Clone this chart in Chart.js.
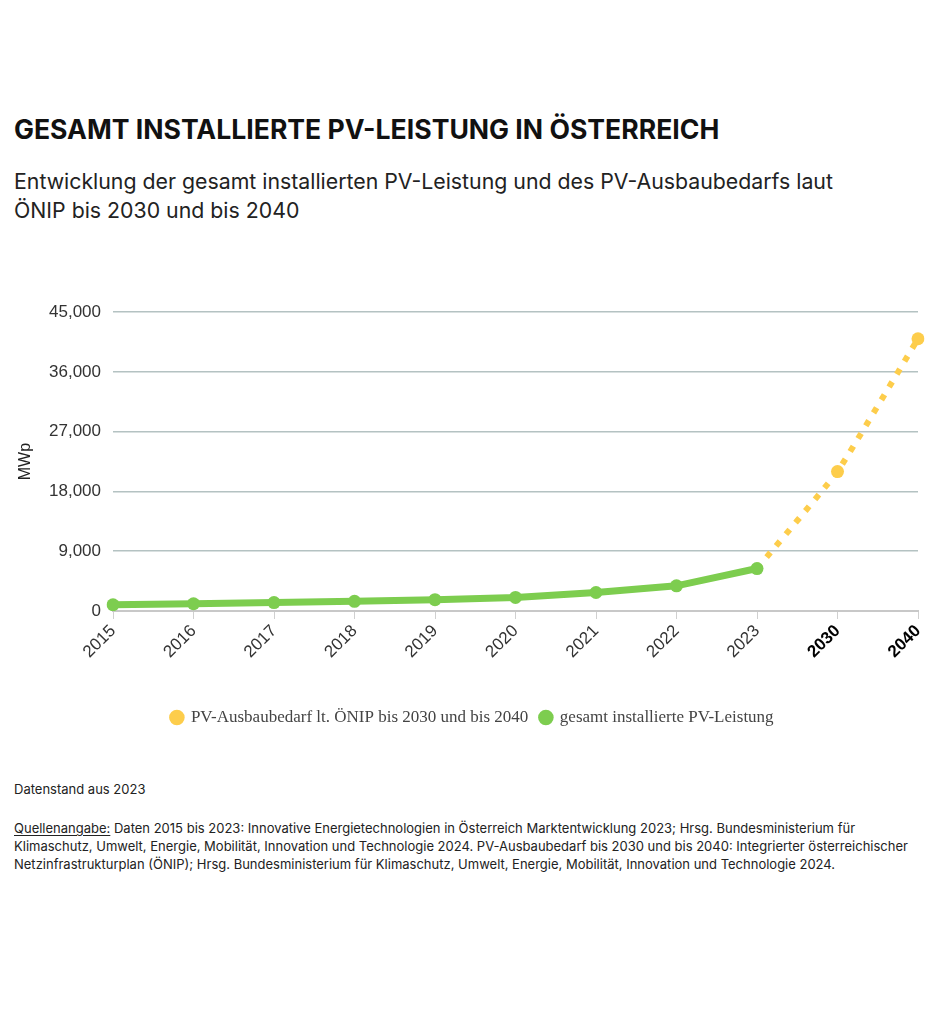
<!DOCTYPE html>
<html lang="de">
<head>
<meta charset="utf-8">
<title>Gesamt installierte PV-Leistung in Österreich</title>
<script src="https://cdn.jsdelivr.net/npm/chart.js@4.4.1/dist/chart.umd.min.js"></script>
<style>
  html, body { margin: 0; padding: 0; background: #fff; }
  body { width: 945px; height: 1024px; position: relative; font-family: Inter, "Noto Sans", sans-serif; color: #222; }
  h1 { position: absolute; left: 14px; top: 113px; margin: 0; font-size: 26.6px; font-weight: 700; color: #111; }
  .sub { position: absolute; left: 14px; top: 167px; margin: 0; font-size: 21.3px; line-height: 29px; color: #222; }
  .chart-box { position: absolute; left: 0; top: 290px; width: 945px; height: 450px; }
  .note { position: absolute; left: 14px; top: 781px; margin: 0; font-size: 13px; color: #222; }
  .src { position: absolute; left: 14px; top: 819px; margin: 0; font-size: 13px; line-height: 18px; color: #222; }
  .src u { text-underline-offset: 2px; }
</style>
</head>
<body>
<h1>GESAMT INSTALLIERTE PV-LEISTUNG IN ÖSTERREICH</h1>
<p class="sub">Entwicklung der gesamt installierten PV-Leistung und des PV-Ausbaubedarfs laut<br>ÖNIP bis 2030 und bis 2040</p>
<div class="chart-box"><canvas id="pvChart"></canvas></div>
<p class="note">Datenstand aus 2023</p>
<p class="src"><u>Quellenangabe:</u> Daten 2015 bis 2023: Innovative Energietechnologien in Österreich Marktentwicklung 2023; Hrsg. Bundesministerium für<br>Klimaschutz, Umwelt, Energie, Mobilität, Innovation und Technologie 2024. PV-Ausbaubedarf bis 2030 und bis 2040: Integrierter österreichischer<br>Netzinfrastrukturplan (ÖNIP); Hrsg. Bundesministerium für Klimaschutz, Umwelt, Energie, Mobilität, Innovation und Technologie 2024.</p>

<script>
// Data (MWp)
const years = ['2015', '2016', '2017', '2018', '2019', '2020', '2021', '2022', '2023', '2030', '2040'];
const installed = [937, 1096, 1269, 1455, 1702, 2043, 2783, 3792, 6395, null, null];
const demand = [null, null, null, null, null, null, null, null, 6395, 21000, 41000];
const demandRadius = [0, 0, 0, 0, 0, 0, 0, 0, 0, 6.5, 6.5];
const yTicksMax = 45000;
const yTickStep = 9000;
const boldYears = ['2030', '2040'];

const green = '#7dcd4f';
const yellow = '#fdcd4b';

const ctx = document.getElementById('pvChart').getContext('2d');
new Chart(ctx, {
    type: 'line',
    data: {
        labels: years,
        datasets: [
            {
                label: 'gesamt installierte PV-Leistung',
                data: installed,
                borderColor: green,
                backgroundColor: green,
                borderWidth: 7,
                pointRadius: 6.5,
                pointBorderWidth: 0,
                tension: 0
            },
            {
                label: 'PV-Ausbaubedarf lt. ÖNIP bis 2030 und bis 2040',
                data: demand,
                borderColor: yellow,
                backgroundColor: yellow,
                borderWidth: 6,
                borderDash: [6, 9],
                borderCapStyle: 'butt',
                pointRadius: demandRadius,
                pointBorderWidth: 0,
                tension: 0.1
            }
        ]
    },
    options: {
        responsive: true,
        maintainAspectRatio: false,
        animation: false,
        layout: { padding: { top: 22, right: 0, bottom: 4, left: 0 } },
        scales: {
            x: {
                offset: false,
                grid: {
                    drawOnChartArea: false,
                    drawTicks: true,
                    tickLength: 8,
                    color: '#d0d0d0'
                },
                border: { color: '#c8c8c8', width: 2 },
                ticks: {
                    maxRotation: 45,
                    minRotation: 45,
                    padding: 2,
                    color: (c) => boldYears.includes(years[c.index]) ? '#000' : '#333',
                    font: (c) => ({
                        family: '"Liberation Sans", Arial, sans-serif',
                        size: 17,
                        weight: boldYears.includes(years[c.index]) ? 'bold' : 'normal'
                    })
                },
                afterFit: (s) => { s.height = 86; }
            },
            y: {
                min: 0,
                max: yTicksMax,
                grid: { color: '#b4c2c2', lineWidth: 1.5, drawTicks: false },
                border: { display: false },
                ticks: {
                    stepSize: yTickStep,
                    padding: 12,
                    color: '#333',
                    font: { family: '"Liberation Sans", Arial, sans-serif', size: 17 },
                    callback: (v) => v.toLocaleString('en-US')
                },
                title: {
                    display: true,
                    text: 'MWp',
                    color: '#222',
                    padding: { top: 16, bottom: 0 },
                    font: { family: '"Liberation Sans", Arial, sans-serif', size: 16 }
                },
                afterFit: (s) => { s.width = 113; }
            },
            // empty right-hand axis, only keeps a margin so the legend stays centred on the page
            yRight: {
                position: 'right',
                min: 0,
                max: yTicksMax,
                grid: { drawOnChartArea: false, drawTicks: false },
                border: { display: false },
                ticks: { display: false },
                afterFit: (s) => { s.width = 27; }
            }
        },
        plugins: {
            legend: {
                position: 'bottom',
                reverse: true,
                labels: {
                    usePointStyle: true,
                    pointStyle: 'circle',
                    boxWidth: 11,
                    boxHeight: 11,
                    padding: 12,
                    color: '#444',
                    font: { family: '"Liberation Serif", "Times New Roman", serif', size: 17 }
                }
            },
            tooltip: { enabled: false }
        }
    }
});
</script>
</body>
</html>
